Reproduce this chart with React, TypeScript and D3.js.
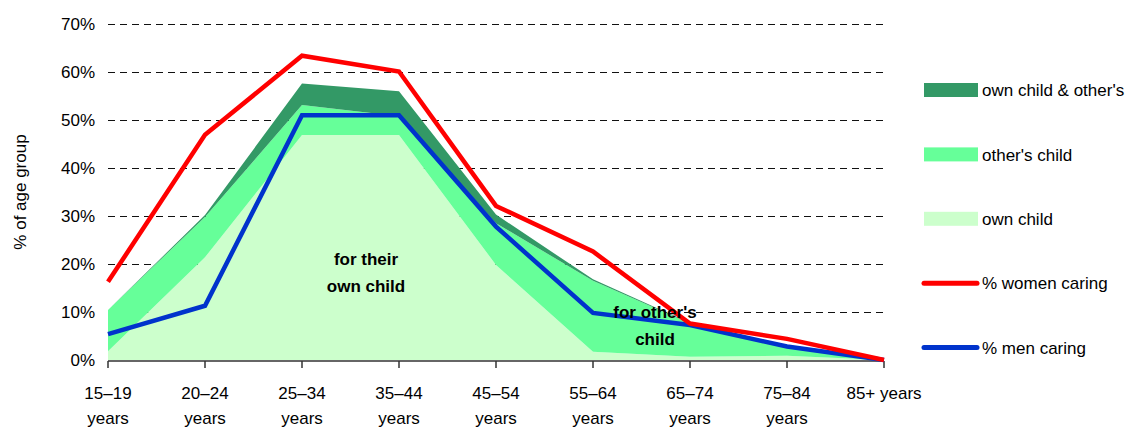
import React from "react";
import * as d3 from "d3";

// Age groups (x axis) and their two-line tick labels
const ageGroups = ["15-19", "20-24", "25-34", "35-44", "45-54", "55-64", "65-74", "75-84", "85+"];
const ageLabels = [
  ["15–19", "years"],
  ["20–24", "years"],
  ["25–34", "years"],
  ["35–44", "years"],
  ["45–54", "years"],
  ["55–64", "years"],
  ["65–74", "years"],
  ["75–84", "years"],
  ["85+ years"],
];

// Stacked bands (% of age group)
const ownChild = [1.8, 21.4, 46.9, 46.9, 19.8, 1.7, 0.7, 0.9, 0];
const othersChild = [8.6, 8.4, 6.2, 3.9, 8.7, 14.8, 6.9, 2.2, 0];
const ownAndOthers = [0, 0.4, 4.5, 5.2, 1.8, 0.3, 0.1, 0, 0];

// Lines
const womenCaring = [16.3, 46.9, 63.4, 60.1, 32.1, 22.6, 7.6, 4.4, 0];
const menCaring = [5.4, 11.3, 51.0, 51.0, 27.8, 9.8, 7.3, 2.8, 0];

const yTicks = [0, 10, 20, 30, 40, 50, 60, 70];

const COLORS = {
  own: "#ccffcc",
  others: "#66ff99",
  both: "#339966",
  women: "#ff0000",
  men: "#0033cc",
};

const FONT = "'Liberation Sans', Arial, sans-serif";

export default function App() {
  const width = 1137;
  const height = 428;

  const x = d3.scalePoint<string>().domain(ageGroups).range([108, 884]);
  const y = d3.scaleLinear().domain([0, 70]).range([360, 24]);

  const rows = ageGroups.map((g, i) => ({
    group: g,
    own: ownChild[i],
    others: othersChild[i],
    both: ownAndOthers[i],
  }));
  const stack = d3.stack<any>().keys(["own", "others", "both"]);
  const series = stack(rows);

  const area = d3
    .area<any>()
    .x((d) => x(d.data.group) as number)
    .y0((d) => y(d[0]))
    .y1((d) => y(d[1]));

  const line = d3
    .line<number>()
    .x((_, i) => x(ageGroups[i]) as number)
    .y((d) => y(d));

  const [x0, x1] = x.range();

  const legend = [
    { type: "rect", color: COLORS.both, label: "own child & other's" },
    { type: "rect", color: COLORS.others, label: "other's child" },
    { type: "rect", color: COLORS.own, label: "own child" },
    { type: "line", color: COLORS.women, label: "% women caring" },
    { type: "line", color: COLORS.men, label: "% men caring" },
  ];

  return (
    <svg
      width={width}
      height={height}
      style={{ position: "absolute", left: 0, top: 0, background: "#fff" }}
      fontFamily={FONT}
    >
      {/* grid */}
      {yTicks
        .filter((t) => t > 0)
        .map((t) => (
          <line
            key={t}
            x1={x0}
            x2={x1}
            y1={y(t) + 0.5}
            y2={y(t) + 0.5}
            stroke="#111"
            strokeWidth={1}
            strokeDasharray="7,5"
          />
        ))}

      {/* stacked areas */}
      {series.map((s) => (
        <path
          key={s.key}
          d={area(s) as string}
          fill={s.key === "own" ? COLORS.own : s.key === "others" ? COLORS.others : COLORS.both}
        />
      ))}

      {/* x axis */}
      <line x1={x0} x2={x1} y1={361} y2={361} stroke="#333" strokeWidth={1.5} />
      {ageGroups.map((g, i) => (
        <g key={g} transform={`translate(${x(g)},0)`}>
          <line y1={361} y2={368} stroke="#333" strokeWidth={1.5} />
          {ageLabels[i].map((t, j) => (
            <text key={j} y={399 + j * 25} textAnchor="middle" fontSize={17} fill="#000">
              {t}
            </text>
          ))}
        </g>
      ))}

      {/* y tick labels */}
      {yTicks.map((t) => (
        <text key={t} x={95} y={y(t)} dy="0.36em" textAnchor="end" fontSize={17} fill="#000">
          {t}%
        </text>
      ))}
      <text
        transform="translate(26,192) rotate(-90)"
        textAnchor="middle"
        fontSize={17}
        fill="#000"
      >
        % of age group
      </text>

      {/* lines */}
      <path d={line(menCaring) as string} fill="none" stroke={COLORS.men} strokeWidth={4.5} />
      <path d={line(womenCaring) as string} fill="none" stroke={COLORS.women} strokeWidth={4.5} />

      {/* annotations */}
      <g fontWeight="bold" fontSize={17} textAnchor="middle" fill="#000">
        <text x={366} y={265}>for their</text>
        <text x={366} y={292}>own child</text>
        <text x={655} y={318}>for other's</text>
        <text x={655} y={345}>child</text>
      </g>

      {/* legend */}
      {legend.map((l, i) => {
        const cy = 90 + i * 64.4;
        return (
          <g key={l.label}>
            {l.type === "rect" ? (
              <rect x={924} y={cy - 7} width={54} height={14} fill={l.color} />
            ) : (
              <line
                x1={924}
                x2={977}
                y1={cy}
                y2={cy}
                stroke={l.color}
                strokeWidth={5}
                strokeLinecap="round"
              />
            )}
            <text x={982} y={cy} dy="0.36em" fontSize={17} fill="#000">
              {l.label}
            </text>
          </g>
        );
      })}
    </svg>
  );
}
